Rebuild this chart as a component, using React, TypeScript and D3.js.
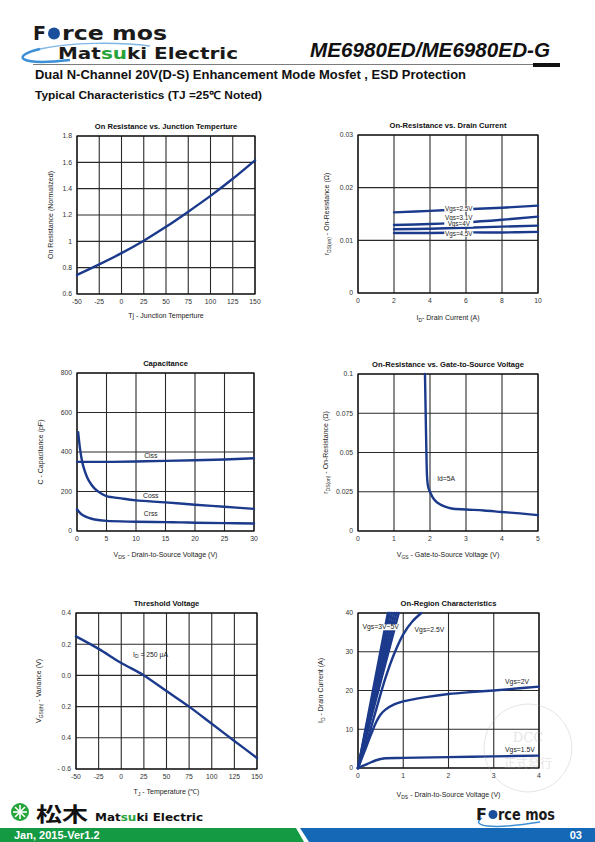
import React from 'react';
import * as d3 from 'd3';

// ---------- DATA ----------
// Chart 1: On Resistance vs Junction Temperature
const tjTemps = [-50, -25, 0, 25, 50, 75, 100, 125, 150];
const rdsNormalized = [0.745, 0.825, 0.91, 1.005, 1.11, 1.225, 1.345, 1.475, 1.615];
const tjTicks = [-50, -25, 0, 25, 50, 75, 100, 125, 150];
const rdsNormTicks = [0.6, 0.8, 1, 1.2, 1.4, 1.6, 1.8];
const rdsNormTickLabels = ['0.6', '0.8', '1', '1.2', '1.4', '1.6', '1.8'];

// Chart 2: On-Resistance vs Drain Current
const drainCurrents = [2, 4, 6, 8, 10];
const rdsVgs25 = [0.0153, 0.0156, 0.0159, 0.0162, 0.0166];
const rdsVgs31 = [0.0129, 0.0131, 0.0134, 0.0139, 0.0145];
const rdsVgs4 = [0.0121, 0.0122, 0.0124, 0.0126, 0.0128];
const rdsVgs45 = [0.0114, 0.0114, 0.0115, 0.0115, 0.0116];
const idTicks = [0, 2, 4, 6, 8, 10];
const rdsTicks = [0, 0.01, 0.02, 0.03];
const rdsTickLabels = ['0', '0.01', '0.02', '0.03'];
const idLabels = ['Vgs=2.5V', 'Vgs=3.1V', 'Vgs=4V', 'Vgs=4.5V'];
const idLabelY = [0.01564, 0.01385, 0.01278, 0.0109];

// Chart 3: Capacitance
const vdsCiss = [0, 5, 10, 15, 20, 25, 30];
const cissValues = [350, 350, 352, 355, 358, 362, 368];
const vdsCoss = [0.2, 0.5, 1, 2, 3, 4, 5, 7.5, 10, 15, 20, 25, 30];
const cossValues = [500, 420, 335, 255, 215, 192, 177, 165, 155, 145, 133, 123, 112];
const vdsCrss = [0, 0.5, 1, 2, 3, 5, 10, 15, 20, 25, 30];
const crssValues = [110, 92, 80, 66, 58, 51, 47, 45, 42, 40, 38];
const capXTicks = [0, 5, 10, 15, 20, 25, 30];
const capYTicks = [0, 200, 400, 600, 800];
const capLabels = ['Ciss', 'Coss', 'Crss'];
const capLabelY = [368, 168, 76];

// Chart 4: On-Resistance vs Gate-to-Source Voltage
const vgsValues = [1.86, 1.88, 1.9, 1.92, 1.95, 2.0, 2.1, 2.2, 2.4, 2.6, 3.0, 3.5, 4.0, 4.5, 5.0];
const rdsVsVgs = [0.1, 0.075, 0.05, 0.034, 0.028, 0.025, 0.0205, 0.0182, 0.0157, 0.0143, 0.0137, 0.0131, 0.0121, 0.0112, 0.0101];
const vgsTicks = [0, 1, 2, 3, 4, 5];
const rdsVgsTicks = [0, 0.025, 0.05, 0.075, 0.1];
const rdsVgsTickLabels = ['0', '0.025', '0.05', '0.075', '0.1'];

// Chart 5: Threshold Voltage
const thTemps = [-50, -25, 0, 25, 50, 75, 100, 125, 150];
const vthVariance = [0.25, 0.17, 0.08, 0.0, -0.1, -0.2, -0.31, -0.42, -0.53];
const thYTicks = [0.4, 0.2, 0.0, -0.2, -0.4, -0.6];
const thYTickLabels = ['0.4', '0.2', '0.0', '0.2', '0.4', '- 0.6'];

// Chart 6: On-Region Characteristics
const bandEndVds = [0.9, 0.85, 0.8, 0.75, 0.7, 0.66];
const bandStartVds = [0, 0, 0, 0, 0, 0];
const bandId = [0, 40];
const vdsVgs25 = [0, 0.2, 0.4, 0.6, 0.8, 1.0, 1.2, 1.4];
const idVgs25 = [0, 7, 15, 23, 29.5, 34.5, 37.8, 40];
const vdsVgs2 = [0, 0.1, 0.2, 0.3, 0.4, 0.5, 0.6, 0.8, 1.0, 1.5, 2.0, 2.5, 3.0, 3.5, 4.0];
const idVgs2 = [0, 3, 6, 9, 11.8, 13.8, 15, 16.4, 17.2, 18.3, 19.1, 19.6, 20.0, 20.5, 21.0];
const vdsVgs15 = [0, 0.2, 0.4, 0.6, 1.0, 2.0, 3.0, 4.0];
const idVgs15 = [0, 1, 2, 2.5, 2.6, 2.8, 3.0, 3.2];
const onXTicks = [0, 1, 2, 3, 4];
const onYTicks = [0, 10, 20, 30, 40];

// ---------- COMPONENTS ----------
const FONT = '"Liberation Sans", Arial, sans-serif';
const BLUE = '#1c3a8c';

type Series = { x: number[]; y: number[] };
type Note = { x: number; y: number; text: React.ReactNode; anchor?: string; bg?: boolean; w?: number; fs?: number };

function Chart(props: {
  x0: number; y0: number; w: number; h: number;
  xDomain: [number, number]; yDomain: [number, number];
  xTicks: number[]; yTicks: number[];
  xTickLabels?: string[]; yTickLabels?: string[];
  title: string; xTitle: React.ReactNode; yTitle: React.ReactNode;
  yTitleOffset: number; xTitleOffset: number;
  series: Series[]; notes?: Note[];
}) {
  const { x0, y0, w, h } = props;
  const xs = d3.scaleLinear().domain(props.xDomain).range([x0, x0 + w]);
  const ys = d3.scaleLinear().domain(props.yDomain).range([y0 + h, y0]);
  const line = d3.line<[number, number]>()
    .x(d => xs(d[0])).y(d => ys(d[1]))
    .curve(d3.curveCatmullRom.alpha(0.5));
  return (
    <g fontFamily={FONT}>
      <text x={x0 + w / 2} y={y0 - 7} textAnchor="middle" fontSize={7.6} fontWeight="bold" fill="#111">{props.title}</text>
      {props.xTicks.map((t, i) => (
        <line key={'gx' + i} x1={xs(t)} x2={xs(t)} y1={y0} y2={y0 + h} stroke="#2a2a2a" strokeWidth={1.1} />
      ))}
      {props.yTicks.map((t, i) => (
        <line key={'gy' + i} x1={x0} x2={x0 + w} y1={ys(t)} y2={ys(t)} stroke="#2a2a2a" strokeWidth={1.1} />
      ))}
      <rect x={x0} y={y0} width={w} height={h} fill="none" stroke="#111" strokeWidth={1.2} />
      {props.xTicks.map((t, i) => (
        <text key={'tx' + i} x={xs(t)} y={y0 + h + 10} textAnchor="middle" fontSize={6.8} fill="#333">
          {props.xTickLabels ? props.xTickLabels[i] : String(t)}
        </text>
      ))}
      {props.yTicks.map((t, i) => (
        <text key={'ty' + i} x={x0 - 5} y={ys(t) + 2.4} textAnchor="end" fontSize={6.8} fill="#333">
          {props.yTickLabels ? props.yTickLabels[i] : String(t)}
        </text>
      ))}
      <text x={x0 + w / 2} y={y0 + h + props.xTitleOffset} textAnchor="middle" fontSize={7} fill="#222">{props.xTitle}</text>
      <text transform={`translate(${x0 - props.yTitleOffset},${y0 + h / 2}) rotate(-90)`} textAnchor="middle" fontSize={7} fill="#222">{props.yTitle}</text>
      {props.series.map((s, i) => (
        <path key={'s' + i} d={line(s.x.map((xv, j) => [xv, s.y[j]] as [number, number])) || ''} fill="none" stroke={BLUE} strokeWidth={2.4} strokeLinecap="round" />
      ))}
      {(props.notes || []).map((n, i) => {
        const bw = n.w || 30;
        const bx = n.anchor === 'start' ? xs(n.x) - 1 : xs(n.x) - bw / 2;
        return (
          <g key={'n' + i}>
            {n.bg && <rect x={bx} y={ys(n.y) - 5} width={bw} height={6} fill="#fff" />}
            <text x={xs(n.x)} y={ys(n.y)} textAnchor={n.anchor || 'middle'} fontSize={n.fs || 6.8} fill="#222">{n.text}</text>
          </g>
        );
      })}
    </g>
  );
}

const sub = (s: string) => <tspan fontSize={5} dy={1.5}>{s}</tspan>;
const unsub = (s: string) => <tspan dy={-1.5}>{s}</tspan>;

export default function App() {
  return (
    <svg width={595} height={842} viewBox="0 0 595 842" style={{ position: 'absolute', left: 0, top: 0, background: '#fff' }}>
      <rect width={595} height={842} fill="#fff" />
      {/* Header logo */}
      <path d="M 40 49 C 10 56, 18 66, 70 60" fill="none" stroke="#3d8fd6" strokeWidth={2.5} />
      <path d="M 40 49 C 70 42, 120 42, 150 46" fill="none" stroke="#7fb6e6" strokeWidth={1.5} />
      <text x={33} y={40} fontFamily='"DejaVu Sans", sans-serif' fontWeight="bold" fontSize={19} fill="#1a1a1a">F</text>
      <circle cx={54} cy={33.5} r={6} fill="#1b4f9c" />
      <text x={62} y={40} fontFamily='"DejaVu Sans", sans-serif' fontWeight="bold" fontSize={19} fill="#1a1a1a" textLength={105} lengthAdjust="spacingAndGlyphs">rce mos</text>
      <text x={58} y={59} fontFamily='"DejaVu Sans", sans-serif' fontWeight="bold" fontSize={15} fill="#1a1a1a" textLength={180} lengthAdjust="spacingAndGlyphs">
        Mat<tspan fill="#27a33c">su</tspan>ki Electric
      </text>
      <text x={310} y={57} fontFamily={FONT} fontStyle="italic" fontWeight="bold" fontSize={20} fill="#111" textLength={240} lengthAdjust="spacingAndGlyphs">ME6980ED/ME6980ED-G</text>
      <line x1={33} x2={534} y1={64.5} y2={64.5} stroke="#444" strokeWidth={0.7} />
      <rect x={533} y={63} width={27} height={4} fill="#111" />
      <text x={35} y={79} fontFamily={FONT} fontWeight="bold" fontSize={12} fill="#111" textLength={431} lengthAdjust="spacingAndGlyphs">Dual N-Channel 20V(D-S) Enhancement Mode Mosfet , ESD Protection</text>
      <text x={35} y={99} fontFamily={FONT} fontWeight="bold" fontSize={11} fill="#111" textLength={227} lengthAdjust="spacingAndGlyphs">Typical Characteristics (TJ =25℃ Noted)</text>

      {/* Chart 1 */}
      <Chart x0={77} y0={136} w={178} h={158} xDomain={[-50, 150]} yDomain={[0.6, 1.8]}
        xTicks={tjTicks} yTicks={rdsNormTicks} yTickLabels={rdsNormTickLabels}
        title="On Resistance vs. Junction Temperture" xTitle="Tj - Junction Temperture"
        yTitle="On Resistance (Normalized)" yTitleOffset={24} xTitleOffset={24}
        series={[{ x: tjTemps, y: rdsNormalized }]} />

      {/* Chart 2 */}
      <Chart x0={358} y0={135} w={180} h={158} xDomain={[0, 10]} yDomain={[0, 0.03]}
        xTicks={idTicks} yTicks={rdsTicks} yTickLabels={rdsTickLabels}
        title="On-Resistance vs. Drain Current"
        xTitle={<>I{sub('D')}{unsub('- Drain Current (A)')}</>}
        yTitle={<>r{sub('DS(on)')}{unsub(' - On-Resistance (Ω)')}</>} yTitleOffset={29} xTitleOffset={27}
        series={[
          { x: drainCurrents, y: rdsVgs25 }, { x: drainCurrents, y: rdsVgs31 },
          { x: drainCurrents, y: rdsVgs4 }, { x: drainCurrents, y: rdsVgs45 }]}
        notes={idLabels.map((t, i) => ({ x: 5.6, y: idLabelY[i], text: t, bg: true, w: 29, fs: 6.3 }))} />

      {/* Chart 3 */}
      <Chart x0={77} y0={373} w={177} h={158} xDomain={[0, 30]} yDomain={[0, 800]}
        xTicks={capXTicks} yTicks={capYTicks}
        title="Capacitance"
        xTitle={<>V{sub('DS')}{unsub(' - Drain-to-Source Voltage (V)')}</>}
        yTitle="C - Capacitance (pF)" yTitleOffset={34} xTitleOffset={26}
        series={[{ x: vdsCiss, y: cissValues }, { x: vdsCoss, y: cossValues }, { x: vdsCrss, y: crssValues }]}
        notes={capLabels.map((t, i) => ({ x: 12.5, y: capLabelY[i], text: t }))} />

      {/* Chart 4 */}
      <Chart x0={358} y0={374} w={180} h={157} xDomain={[0, 5]} yDomain={[0, 0.1]}
        xTicks={vgsTicks} yTicks={rdsVgsTicks} yTickLabels={rdsVgsTickLabels}
        title="On-Resistance vs. Gate-to-Source Voltage"
        xTitle={<>V{sub('GS')}{unsub(' - Gate-to-Source Voltage (V)')}</>}
        yTitle={<>r{sub('DS(on)')}{unsub(' - On-Resistance (Ω)')}</>} yTitleOffset={30} xTitleOffset={26}
        series={[{ x: vgsValues, y: rdsVsVgs }]}
        notes={[{ x: 2.2, y: 0.032, text: 'Id=5A', anchor: 'start' }]} />

      {/* Chart 5 */}
      <Chart x0={76} y0={613} w={181} h={156} xDomain={[-50, 150]} yDomain={[-0.6, 0.4]}
        xTicks={tjTicks} yTicks={thYTicks} yTickLabels={thYTickLabels}
        title="Threshold Voltage"
        xTitle={<>T{sub('J')}{unsub(' - Temperature (℃)')}</>}
        yTitle={<>V{sub('GS(th)')}{unsub(' - Variance (V)')}</>} yTitleOffset={35} xTitleOffset={25}
        series={[{ x: thTemps, y: vthVariance }]}
        notes={[{ x: 13, y: 0.12, text: <>I{sub('D')}{unsub(' = 250 µA')}</>, anchor: 'start' }]} />

      {/* Chart 6 */}
      <Chart x0={358} y0={613} w={181} h={155} xDomain={[0, 4]} yDomain={[0, 40]}
        xTicks={onXTicks} yTicks={onYTicks}
        title="On-Region Characteristics"
        xTitle={<>V{sub('DS')}{unsub(' - Drain-to-Source Voltage (V)')}</>}
        yTitle={<>I{sub('D')}{unsub(' - Drain Current (A)')}</>} yTitleOffset={35} xTitleOffset={29}
        series={[
          ...bandEndVds.map((e, i) => ({ x: [bandStartVds[i], e], y: bandId })),
          { x: vdsVgs25, y: idVgs25 }, { x: vdsVgs2, y: idVgs2 }, { x: vdsVgs15, y: idVgs15 }]}
        notes={[
          { x: 0.1, y: 35.8, text: 'Vgs=3V~5V', anchor: 'start', bg: true, w: 37 },
          { x: 1.25, y: 35, text: 'Vgs=2.5V', anchor: 'start' },
          { x: 3.25, y: 21.8, text: 'Vgs=2V', anchor: 'start' },
          { x: 3.25, y: 4.2, text: 'Vgs=1.5V', anchor: 'start' }]} />

      {/* DCC stamp */}
      <g opacity={0.3}>
        <circle cx={528} cy={748} r={44} fill="none" stroke="#aaa" strokeWidth={1} />
        <text x={528} y={742} textAnchor="middle" fontFamily='"DejaVu Serif", serif' fontSize={13} fill="#aaa">DCC</text>
        <text x={528} y={768} textAnchor="middle" fontFamily='"Noto Sans CJK TC", sans-serif' fontSize={12} fill="#aaa">正式發行</text>
      </g>

      {/* Footer */}
      <polygon points="0,828 296,828 304,842 0,842" fill="#139a43" />
      <polygon points="300,828 595,828 595,842 309,842" fill="#1468b6" />
      <text x={14} y={839} fontFamily={FONT} fontWeight="bold" fontSize={11} fill="#fff">Jan, 2015-Ver1.2</text>
      <text x={582} y={839} textAnchor="end" fontFamily={FONT} fontWeight="bold" fontSize={11} fill="#fff">03</text>
      <circle cx={20} cy={812} r={9} fill="#27a33c" />
      <g stroke="#fff" strokeWidth={1.6}>
        <line x1={20} y1={805} x2={20} y2={819} />
        <line x1={13} y1={812} x2={27} y2={812} />
        <line x1={15} y1={807} x2={25} y2={817} />
        <line x1={25} y1={807} x2={15} y2={817} />
      </g>
      <text x={36} y={822} fontFamily='"Noto Sans CJK JP", sans-serif' fontWeight="bold" fontSize={20} fill="#111" textLength={52} lengthAdjust="spacingAndGlyphs">松木</text>
      <text x={95} y={821} fontFamily='"DejaVu Sans", sans-serif' fontWeight="bold" fontSize={11} fill="#111" textLength={108} lengthAdjust="spacingAndGlyphs">
        Mat<tspan fill="#27a33c">su</tspan>ki Electric
      </text>
      <path d="M 482 818 C 470 826, 490 830, 540 822" fill="none" stroke="#3d8fd6" strokeWidth={1.5} />
      <text x={476} y={820} fontFamily='"DejaVu Sans", sans-serif' fontWeight="bold" fontSize={16} fill="#1a1a1a">F</text>
      <circle cx={493} cy={814.5} r={4.5} fill="#1b4f9c" />
      <text x={498} y={820} fontFamily='"DejaVu Sans", sans-serif' fontWeight="bold" fontSize={16} fill="#1a1a1a" textLength={57} lengthAdjust="spacingAndGlyphs">rce mos</text>
    </svg>
  );
}
